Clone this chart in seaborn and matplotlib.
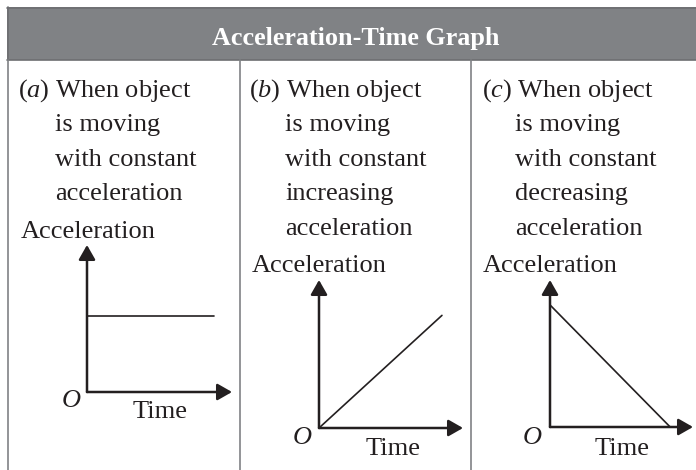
import matplotlib
matplotlib.use("Agg")
import seaborn as sns
import matplotlib.pyplot as plt
import pandas as pd
from matplotlib.patches import Rectangle

# content of the three panels
title = "Acceleration-Time Graph"
panel_tags = ["a", "b", "c"]
captions = [
    ["When object", "is moving", "with constant", "acceleration"],
    ["When object", "is moving", "with constant", "increasing", "acceleration"],
    ["When object", "is moving", "with constant", "decreasing", "acceleration"],
]
y_label = "Acceleration"
x_label = "Time"

# schematic graph values (arbitrary units)
time_a = [0, 8]
accel_a = [4.2, 4.2]
time_b = [0, 8]
accel_b = [0, 7]
time_c = [0, 8]
accel_c = [7, 0]

sns.set_theme(style="white")
plt.rcParams["font.family"] = ["Liberation Serif", "DejaVu Serif"]
plt.rcParams["mathtext.fontset"] = "custom"
plt.rcParams["mathtext.rm"] = "Liberation Serif"
plt.rcParams["mathtext.it"] = "Liberation Serif:italic"

W, H = 696, 470
ink = "#231f20"
grey = "#808285"
edge = "#6d6e71"

fig = plt.figure(figsize=(W / 100, H / 100), dpi=100)
bg = fig.add_axes([0, 0, 1, 1])
bg.set_xlim(0, W)
bg.set_ylim(H, 0)
bg.axis("off")

# header band
bg.add_patch(Rectangle((7, 7), W - 7, 53, color=grey, lw=0))
bg.plot([7, W], [7.5, 7.5], color=edge, lw=1.2)
bg.plot([7, W], [59.5, 59.5], color=edge, lw=1.2)
bg.plot([7.5, 7.5], [7, 60], color=edge, lw=1.2)
bg.text(356, 45, title, color="white", fontsize=18.8, fontweight="bold",
        ha="center", va="baseline")

# panel dividers
for xd in [7.5, 240, 471]:
    bg.plot([xd, xd], [60, H], color=grey, lw=1.2)

# captions
tag_x = [18, 249, 482]
body_x = [55, 285, 515]
ylab_x = [21, 252, 483]
fs = 19
step = 34.4
for i, lines in enumerate(captions):
    for j, line in enumerate(lines):
        yb = 97 + step * j
        if j == 0:
            bg.text(tag_x[i], yb, r"($\mathit{%s}$) %s" % (panel_tags[i], line),
                    fontsize=fs, color=ink, va="baseline", ha="left")
        else:
            bg.text(body_x[i], yb, line, fontsize=fs, color=ink,
                    va="baseline", ha="left")
    bg.text(ylab_x[i], 97 + step * len(lines) + 3, y_label, fontsize=fs,
            color=ink, va="baseline", ha="left")

# graphs: origin (px), x-arrow tip, y-arrow tip
boxes = [(87, 392, 232, 245), (319, 428, 463, 280), (550, 427, 693, 280)]
series = [(time_a, accel_a, 9.1, 8.1), (time_b, accel_b, 9.37, 9.2),
          (time_c, accel_c, 9.52, 8.43)]
o_pos = [(71, 401), (302, 438), (532, 438)]
t_pos = [(160, 418), (393, 455), (622, 455)]

for (x0, y0, xt, yt), (tx, ay, xmax, ymax), (ox, oy), (tpx, tpy) in zip(
        boxes, series, o_pos, t_pos):
    ax = fig.add_axes([x0 / W, 1 - y0 / H, (xt - x0) / W, (y0 - yt) / H])
    df = pd.DataFrame({"Time": tx, "Acceleration": ay})
    sns.lineplot(data=df, x="Time", y="Acceleration", ax=ax, color=ink, lw=1.2)
    ax.set_xlim(0, xmax)
    ax.set_ylim(0, ymax)
    ax.axis("off")
    for tip in [(1, 0), (0, 1)]:
        ax.annotate("", xy=tip, xytext=(0, 0), xycoords="axes fraction",
                    arrowprops=dict(arrowstyle="-|>,head_length=0.42,head_width=0.24",
                                    mutation_scale=21, lw=1.8, color=ink,
                                    shrinkA=0, shrinkB=0))
    bg.text(ox, oy, "O", fontsize=fs, style="italic", color=ink,
            ha="center", va="center")
    bg.text(tpx, tpy, x_label, fontsize=fs, color=ink, ha="center",
            va="baseline")

fig.savefig("out.png", dpi=100)
